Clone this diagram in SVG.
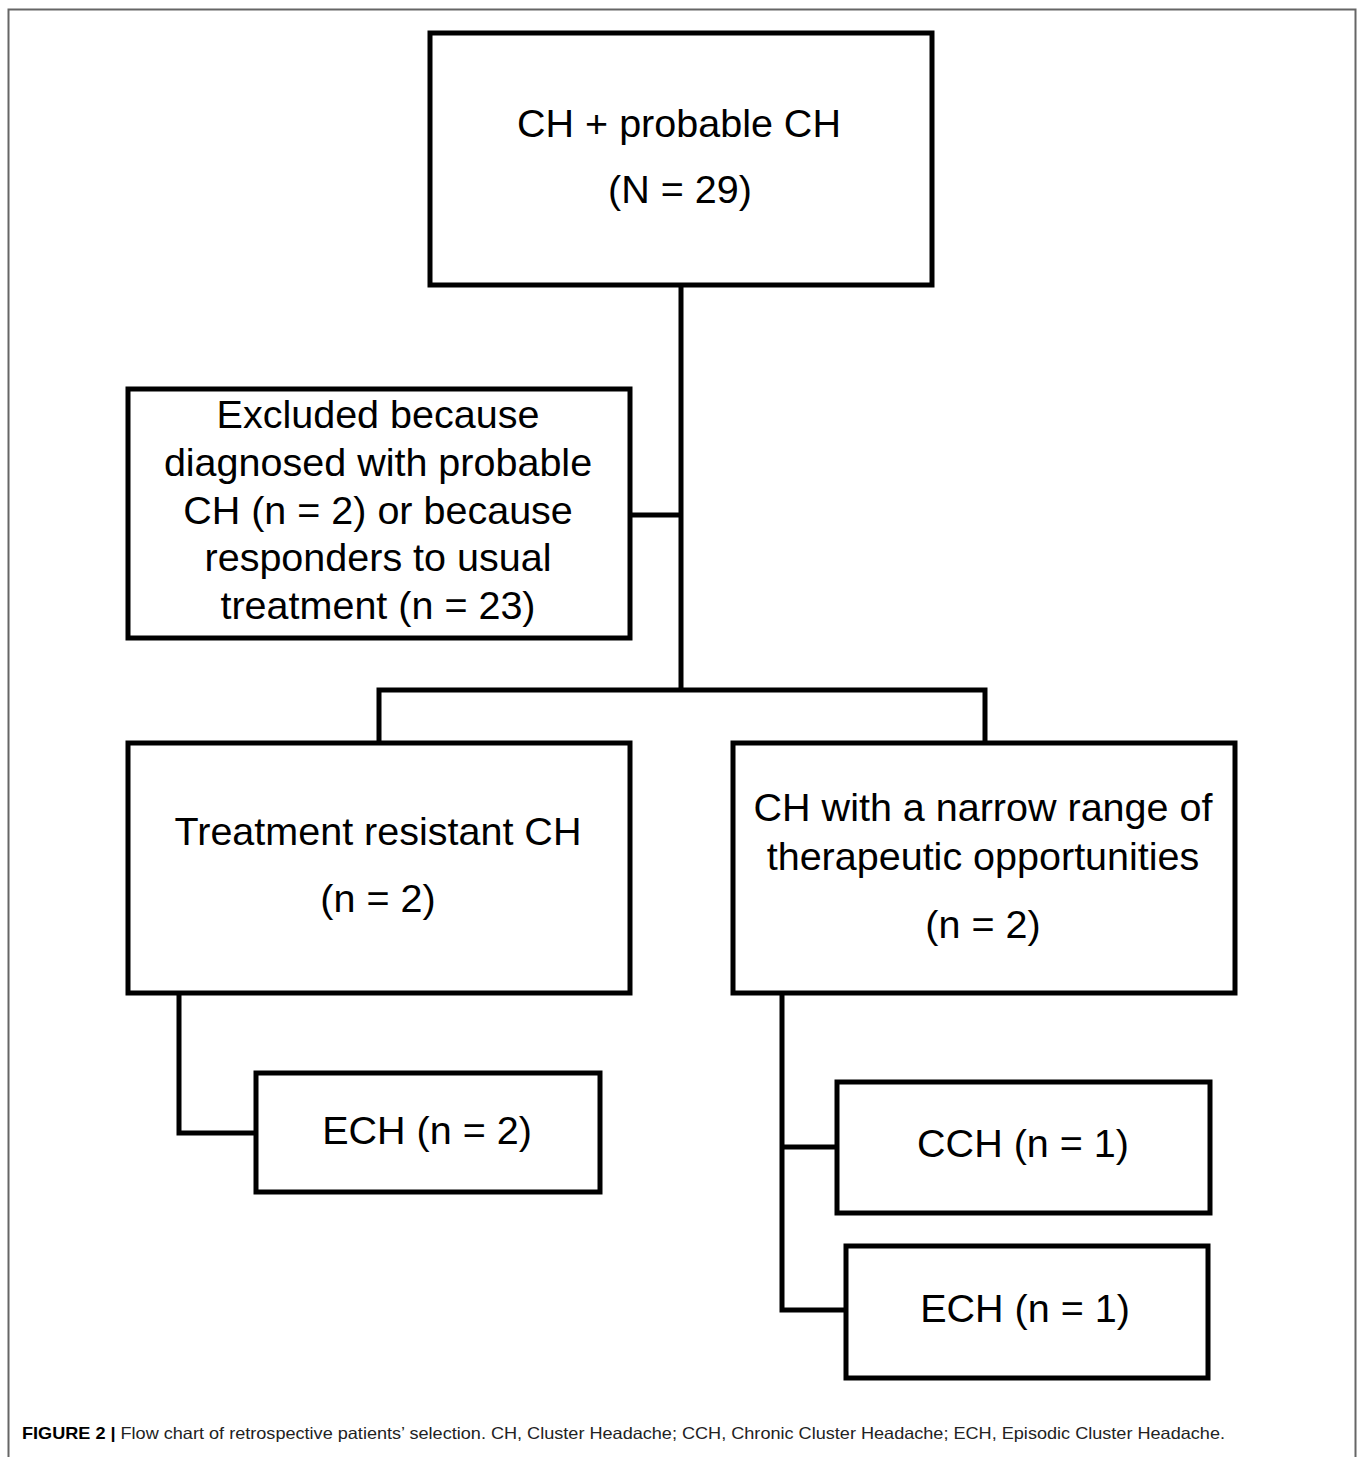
<svg xmlns="http://www.w3.org/2000/svg" width="1358" height="1457" viewBox="0 0 1358 1457">
<style>
.box{fill:#fff;stroke:#000;stroke-width:5}
.conn{fill:none;stroke:#000;stroke-width:5}
.t{font-family:"Liberation Sans",Arial,sans-serif;font-size:39.5px;fill:#000;text-anchor:middle}
.cap{font-family:"Liberation Sans",Arial,sans-serif;font-size:16.5px;fill:#222}
</style>
<rect width="1358" height="1457" fill="#fff"/>
<path d="M8.5,1457 V9.5 H1355.5 V1457" fill="none" stroke="#666" stroke-width="2"/>
<g id="connectors">
<path class="conn" d="M681,285 V690"/>
<path class="conn" d="M630,515 H681"/>
<path class="conn" d="M379,743 V690 H985 V743"/>
<path class="conn" d="M179,993 V1133 H256"/>
<path class="conn" d="M782,993 V1310 H846"/>
<path class="conn" d="M782,1147 H837"/>
</g>
<g id="node-total">
<rect class="box" x="430" y="33" width="502" height="252"/>
<text class="t" x="679" y="137">CH + probable CH</text>
<text class="t" x="680" y="203">(N = 29)</text>
</g>
<g id="node-excluded">
<rect class="box" x="128" y="389" width="502" height="249"/>
<text class="t" x="378" y="428">Excluded because</text>
<text class="t" x="378" y="476">diagnosed with probable</text>
<text class="t" x="378" y="524">CH (n = 2) or because</text>
<text class="t" x="378" y="571">responders to usual</text>
<text class="t" x="378" y="619">treatment (n = 23)</text>
</g>
<g id="node-resistant">
<rect class="box" x="128" y="743" width="502" height="250"/>
<text class="t" x="378" y="845">Treatment resistant CH</text>
<text class="t" x="378" y="912">(n = 2)</text>
</g>
<g id="node-narrow">
<rect class="box" x="733" y="743" width="502" height="250"/>
<text class="t" x="983" y="821">CH with a narrow range of</text>
<text class="t" x="983" y="870">therapeutic opportunities</text>
<text class="t" x="983" y="938">(n = 2)</text>
</g>
<g id="node-ech2">
<rect class="box" x="256" y="1073" width="344" height="119"/>
<text class="t" x="427" y="1144">ECH (n = 2)</text>
</g>
<g id="node-cch1">
<rect class="box" x="837" y="1082" width="373" height="131"/>
<text class="t" x="1023" y="1157">CCH (n = 1)</text>
</g>
<g id="node-ech1">
<rect class="box" x="846" y="1246" width="362" height="132"/>
<text class="t" x="1025" y="1322">ECH (n = 1)</text>
</g>
<text class="cap" x="22" y="1439" textLength="1203" lengthAdjust="spacingAndGlyphs"><tspan font-weight="bold" fill="#000">FIGURE 2 |</tspan> Flow chart of retrospective patients’ selection. CH, Cluster Headache; CCH, Chronic Cluster Headache; ECH, Episodic Cluster Headache.</text>
</svg>
